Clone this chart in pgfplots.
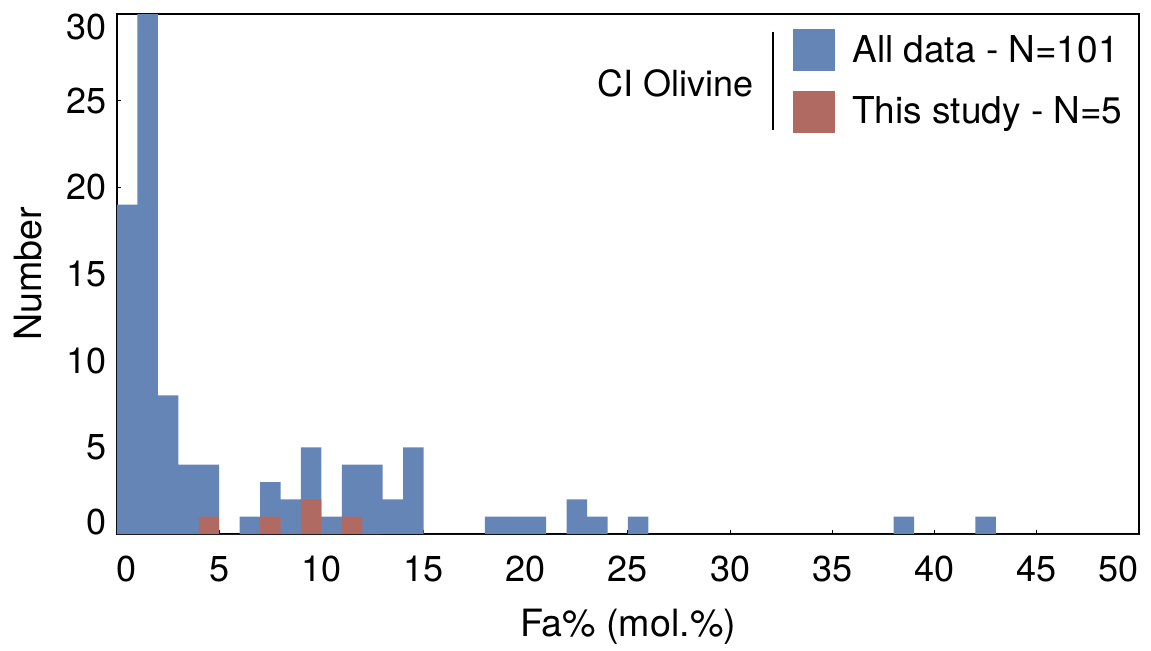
\documentclass[border=0pt]{standalone}
\usepackage{pgfplots}
\pgfplotsset{compat=1.18}
\usepackage{pgfplotstable}
\usepackage{fontspec}
\setmainfont{TeX Gyre Heros}
\definecolor{barblue}{RGB}{101,133,182}
\definecolor{barred}{RGB}{176,106,98}

\pgfplotstableread{
x y
0 19
1 30
2 8
3 4
4 4
5 0
6 1
7 3
8 2
9 5
10 1
11 4
12 4
13 2
14 5
15 0
16 0
17 0
18 1
19 1
20 1
21 0
22 2
23 1
24 0
25 1
26 0
27 0
28 0
29 0
30 0
31 0
32 0
33 0
34 0
35 0
36 0
37 0
38 1
39 0
40 0
41 0
42 1
43 0
44 0
45 0
46 0
47 0
48 0
49 0
50 0
}\alldata

\pgfplotstableread{
x y
0 0
1 0
2 0
3 0
4 1
5 0
6 0
7 1
8 0
9 2
10 0
11 1
12 0
13 0
}\thisstudy

\begin{document}
\begin{tikzpicture}
\begin{axis}[
  name=ax,
  scale only axis,
  width=511pt, height=260pt,
  xmin=0, xmax=50, ymin=0, ymax=30,
  xtick={0,5,...,50},
  xticklabels={\makebox[0pt][l]{0},5,10,15,20,25,30,35,40,45,\makebox[0pt][r]{50}},
  ytick={0,5,...,30},
  yticklabels={\smash{0},5,10,15,20,25,\smash{\raisebox{-\height}{30}}},
  tick pos=left,
  tick align=inside,
  major tick length=2pt,
  every tick/.style={black, line width=0.6pt},
  axis line style={line width=1.4pt},
  ticklabel style={font=\fontsize{18}{21}\selectfont, inner sep=0pt},
  xticklabel style={anchor=north, yshift=-11pt},
  yticklabel style={anchor=east, xshift=-5pt},
  /pgf/number format/assume math mode=true,
  label style={font=\fontsize{18.8}{22}\selectfont},
  xlabel={Fa\% (mol.\%)},
  ylabel={Number},
  xlabel style={at={(axis description cs:0.5,-0.198)}, anchor=base},
  ylabel style={at={(axis description cs:-0.0734,0.5)}, anchor=base},
  legend style={
    at={(rel axis cs:0.6614,0.971)}, anchor=north west,
    draw=none, fill=none, inner sep=0pt,
    font=\fontsize{18.5}{21}\selectfont,
    column sep=8.5pt, row sep=10pt,
    nodes={inner sep=0pt},
  },
  legend cell align=left,
]
\addplot[ybar interval, fill=barblue, draw=none,
  legend image code/.code={\fill[barblue] (0pt,-10.4pt) rectangle (21pt,10.4pt);}]
  table[x=x, y=y] {\alldata};
\addplot[ybar interval, fill=barred, draw=none,
  legend image code/.code={\fill[barred] (0pt,-10.4pt) rectangle (21pt,10.4pt);}]
  table[x=x, y=y] {\thisstudy};
\legend{All data - N=101, This study - N=5}
\node[anchor=east, font=\fontsize{18}{21}\selectfont, inner sep=0pt] at (rel axis cs:0.6233,0.867) {CI Olivine};
\draw[line width=1pt] (rel axis cs:0.642,0.966) -- (rel axis cs:0.642,0.777);
\end{axis}
\pgfresetboundingbox
\path (ax.south west) ++(-58.5pt,-58pt) rectangle ++(575.5pt,325pt);
\end{tikzpicture}
\end{document}
